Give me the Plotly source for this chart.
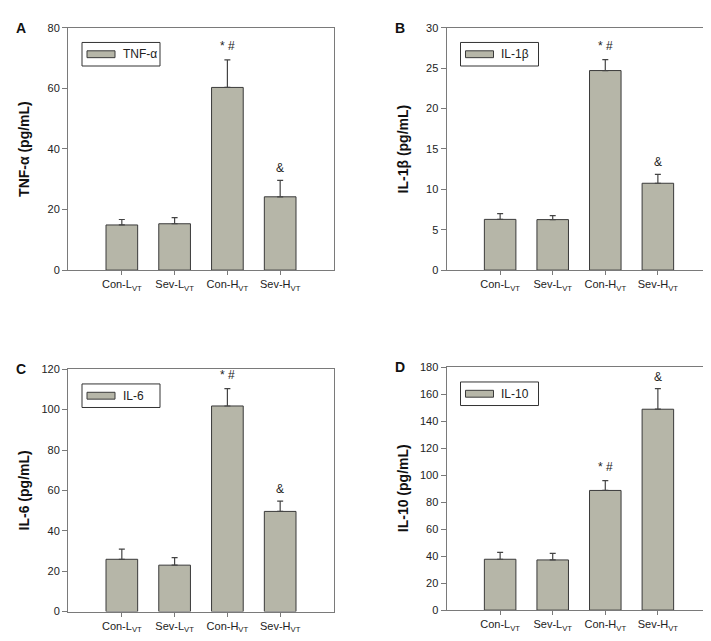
import plotly.graph_objects as go

W, H = 711, 641

categories = ["Con-L<sub>VT</sub>", "Sev-L<sub>VT</sub>", "Con-H<sub>VT</sub>", "Sev-H<sub>VT</sub>"]

tnf_vals = [14.9, 15.3, 60.3, 24.2]
tnf_err = [1.8, 2.0, 9.1, 5.4]
il1b_vals = [6.28, 6.25, 24.7, 10.75]
il1b_err = [0.7, 0.5, 1.35, 1.1]
il6_vals = [25.9, 23.0, 101.8, 49.6]
il6_err = [5.0, 3.7, 8.6, 5.1]
il10_vals = [37.7, 37.2, 88.7, 148.9]
il10_err = [5.1, 4.8, 7.3, 15.3]

sig_tnf = ["", "", "* #", "&"]
sig_il1b = ["", "", "* #", "&"]
sig_il6 = ["", "", "* #", "&"]
sig_il10 = ["", "", "* #", "&"]

panels = [
    dict(letter="A", name="TNF-α", ytitle="TNF-α (pg/mL)", vals=tnf_vals, err=tnf_err, sig=sig_tnf,
         yrange=[0, 80], dtick=20, box=(60, 326, 14, 261)),
    dict(letter="B", name="IL-1β", ytitle="IL-1β (pg/mL)", vals=il1b_vals, err=il1b_err, sig=sig_il1b,
         yrange=[0, 30], dtick=5, box=(438.5, 703.5, 14, 261)),
    dict(letter="C", name="IL-6", ytitle="IL-6 (pg/mL)", vals=il6_vals, err=il6_err, sig=sig_il6,
         yrange=[0, 120], dtick=20, box=(60, 326, 362, 609)),
    dict(letter="D", name="IL-10", ytitle="IL-10 (pg/mL)", vals=il10_vals, err=il10_err, sig=sig_il10,
         yrange=[0, 180], dtick=20, box=(438.5, 703.5, 360, 607.5)),
]

BAR = "#b6b6a8"
EDGE = "#3a3a3a"
AXC = "#7a7a7a"
FONT = "Liberation Sans, Arial, sans-serif"

def px(x):
    return x / W

def py(y):
    return 1 - y / H

fig = go.Figure()
shapes = []
annotations = []

for i, p in enumerate(panels, start=1):
    xa = "x" if i == 1 else f"x{i}"
    ya = "y" if i == 1 else f"y{i}"
    x0, x1, y0, y1 = p["box"]
    fig.add_trace(go.Bar(
        x=categories, y=p["vals"], xaxis=xa, yaxis=ya, name=p["name"], width=0.6,
        marker=dict(color=BAR, line=dict(color=EDGE, width=1)),
        error_y=dict(type="data", symmetric=False, array=p["err"], arrayminus=[0] * 4,
                     color="#444444", thickness=1.2, width=3),
        showlegend=False,
    ))
    xkey = "xaxis" if i == 1 else f"xaxis{i}"
    ykey = "yaxis" if i == 1 else f"yaxis{i}"
    fig.layout[xkey] = dict(
        domain=[px(x0), px(x1)], anchor=ya, type="category", range=[-1.02, 4.02],
        showline=True, linecolor=AXC, linewidth=1, mirror=True,
        ticks="outside", ticklen=4, tickcolor=AXC, showgrid=False,
        tickfont=dict(family=FONT, size=11, color="#222222"),
    )
    fig.layout[ykey] = dict(
        domain=[py(y1), py(y0)], anchor=xa, range=p["yrange"], dtick=p["dtick"],
        showline=True, linecolor=AXC, linewidth=1, mirror=True,
        ticks="outside", ticklen=5, tickcolor=AXC, showgrid=False, zeroline=False,
        tickfont=dict(family=FONT, size=11, color="#222222"),
    )
    # significance marks
    for c, v, e, s in zip(categories, p["vals"], p["err"], p["sig"]):
        if s:
            annotations.append(dict(x=c, y=v + e, xref=xa, yref=ya, text=s, showarrow=False,
                                    yanchor="bottom", yshift=3 if s == "&" else 5,
                                    font=dict(family=FONT, size=12, color="#222222")))
    # panel letter
    annotations.append(dict(x=px(x0 - 47), y=py(y0), xref="paper", yref="paper", text=f"<b>{p['letter']}</b>",
                            showarrow=False, xanchor="center", yanchor="middle",
                            font=dict(family=FONT, size=14, color="#111111")))
    # y axis title
    annotations.append(dict(x=px(x0 - 44), y=py((y0 + y1) / 2), xref="paper", yref="paper",
                            text=f"<b>{p['ytitle']}</b>", textangle=-90, showarrow=False,
                            xanchor="center", yanchor="middle",
                            font=dict(family=FONT, size=14, color="#111111")))
    # legend box
    lx0, ly0 = x0 + 14, y0 + 15
    shapes.append(dict(type="rect", xref="paper", yref="paper", x0=px(lx0), x1=px(lx0 + 78),
                       y0=py(ly0 + 24), y1=py(ly0), line=dict(color="#333333", width=1),
                       fillcolor="white"))
    shapes.append(dict(type="rect", xref="paper", yref="paper", x0=px(lx0 + 5), x1=px(lx0 + 33),
                       y0=py(ly0 + 15.5), y1=py(ly0 + 8.5), line=dict(color=EDGE, width=1),
                       fillcolor=BAR))
    annotations.append(dict(x=px(lx0 + 39), y=py(ly0 + 12), xref="paper", yref="paper",
                            text=p["name"], showarrow=False, xanchor="left", yanchor="middle",
                            font=dict(family=FONT, size=12, color="#222222")))

fig.update_layout(
    width=W, height=H, margin=dict(l=0, r=0, t=0, b=0),
    paper_bgcolor="white", plot_bgcolor="white",
    shapes=shapes, annotations=annotations, bargap=0.4,
    font=dict(family=FONT),
)

fig.write_html("out.html")
